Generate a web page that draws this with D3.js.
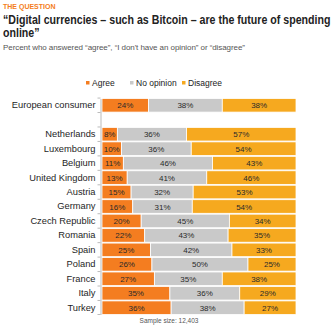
<!DOCTYPE html>
<html lang="en">
<head>
<meta charset="UTF-8">
<title>Digital currencies</title>
<script src="https://d3js.org/d3.v7.min.js"></script>
<style>
  body { margin: 0; background: #fff; font-family: "Liberation Sans", Arial, sans-serif; }
</style>
</head>
<body>
<div id="chart"></div>
<script>
// data
const countries = ["European consumer", "", "Netherlands", "Luxembourg", "Belgium", "United Kingdom",
    "Austria", "Germany", "Czech Republic", "Romania", "Spain", "Poland", "France", "Italy", "Turkey"];
const agree     = [24, null, 8, 10, 11, 13, 15, 16, 20, 22, 25, 26, 27, 35, 36];
const noOpinion = [38, null, 36, 36, 46, 41, 32, 31, 45, 43, 42, 50, 35, 36, 38];
const disagree  = [38, null, 57, 54, 43, 46, 53, 54, 34, 35, 33, 25, 38, 29, 27];
const seriesNames = ["Agree", "No opinion", "Disagree"];
const colors = ["#f47d20", "#c9c9c9", "#f6a91f"];

const width = 334, height = 329;
const svg = d3.select("#chart").append("svg")
    .attr("width", width).attr("height", height);

// header
svg.append("text").attr("x", 3).attr("y", 9)
    .attr("font-size", "7px").attr("font-weight", "bold").attr("fill", "#f47d20")
    .text("THE QUESTION");
// title is squeezed horizontally so it fits the narrow frame
const title = svg.append("g").attr("transform", "translate(3,0) scale(0.85,1)");
title.append("text").attr("x", 0).attr("y", 24)
    .attr("font-size", "12.5px").attr("font-weight", "bold").attr("fill", "#222")
    .text("“Digital currencies – such as Bitcoin – are the future of spending");
title.append("text").attr("x", 0).attr("y", 37)
    .attr("font-size", "12.5px").attr("font-weight", "bold").attr("fill", "#222")
    .text("online”");
svg.append("text").attr("x", 3).attr("y", 50)
    .attr("font-size", "8px").attr("fill", "#555")
    .attr("textLength", 242).attr("lengthAdjust", "spacing")
    .text("Percent who answered “agree”, “I don't have an opinion” or  “disagree”");

const rows = countries.map((c, i) => ({
    name: c, key: "r" + i,
    Agree: agree[i], "No opinion": noOpinion[i], Disagree: disagree[i]
}));
const dataRows = rows.filter(d => d.Agree != null);

const x = d3.scaleLinear().domain([0, 1]).range([102, 296]);
const y = d3.scaleBand().domain(rows.map(d => d.key)).range([98.5, 314.5]).paddingInner(0.06);

const stack = d3.stack().keys(seriesNames).offset(d3.stackOffsetExpand);
const series = stack(dataRows);

const g = svg.append("g");
series.forEach((s, si) => {
    const grp = g.append("g");
    grp.selectAll("rect").data(s).join("rect")
        .attr("x", d => x(d[0]))
        .attr("y", d => y(d.data.key))
        .attr("width", d => x(d[1]) - x(d[0]))
        .attr("height", y.bandwidth())
        .attr("fill", colors[si])
        .attr("stroke", "#fff").attr("stroke-width", 0.8);
    grp.selectAll("text").data(s).join("text")
        .attr("x", d => (x(d[0]) + x(d[1])) / 2)
        .attr("y", d => y(d.data.key) + y.bandwidth() / 2 + 3)
        .attr("text-anchor", "middle")
        .attr("font-size", "8px").attr("fill", "#2a2a2a")
        .text(d => d.data[seriesNames[si]] + "%");
});

// y axis
const axis = svg.append("g").attr("transform", "translate(100.5,0)")
    .call(d3.axisLeft(y).tickSize(0).tickFormat(k => rows.find(r => r.key === k).name).tickPadding(5));
axis.select(".domain").attr("stroke", "#bbb");
axis.selectAll("text").attr("font-size", "9.3px").attr("fill", "#1e1e1e")
    .attr("font-family", "\"Liberation Sans\", Arial, sans-serif");
// tick marks at band boundaries
const bounds = rows.map(d => y(d.key) - y.step() * y.paddingInner() / 2).concat([314.5]);
axis.selectAll(".bound").data(bounds).join("line")
    .attr("x1", -3).attr("x2", 0).attr("y1", d => d).attr("y2", d => d)
    .attr("stroke", "#bbb");

// legend
const legendX = [86, 130, 182];
const leg = svg.append("g");
seriesNames.forEach((n, i) => {
    leg.append("rect").attr("x", legendX[i]).attr("y", 81).attr("width", 3.5).attr("height", 3.5)
        .attr("fill", colors[i]);
    leg.append("text").attr("x", legendX[i] + 6).attr("y", 86)
        .attr("font-size", "8.5px").attr("fill", "#222").text(n);
});

svg.append("text").attr("x", 169).attr("y", 323).attr("text-anchor", "middle")
    .attr("font-size", "6.5px").attr("fill", "#555").text("Sample size: 12,403");
</script>
</body>
</html>
